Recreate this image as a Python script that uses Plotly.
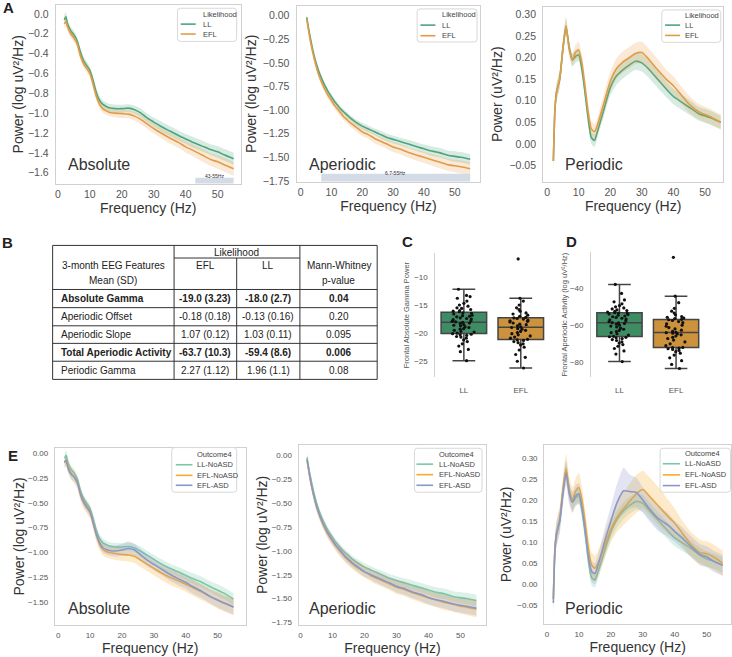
import plotly.graph_objects as go

# ======================= DATA =======================
freqs = [2, 2.5, 3, 4, 5, 6, 7, 8, 9, 10, 11, 12, 13, 14, 15, 16,
         18, 20, 22, 24, 26, 28, 30, 32, 35, 38, 40, 42, 45, 48, 50, 52, 55]

# ---- Panel A : Likelihood (LL / EFL) ----
abs_ll = [-0.06, -0.03, -0.10, -0.17, -0.21, -0.27, -0.38, -0.47, -0.52, -0.57, -0.67, -0.79, -0.87, -0.91, -0.93, -0.945,
          -0.955, -0.955, -0.95, -0.965, -1.00, -1.05, -1.09, -1.13, -1.18, -1.23, -1.26, -1.29, -1.33, -1.37, -1.39, -1.42, -1.46]
abs_efl = [-0.10, -0.08, -0.13, -0.20, -0.24, -0.30, -0.42, -0.50, -0.55, -0.60, -0.71, -0.83, -0.91, -0.955, -0.975, -0.99,
           -1.00, -1.005, -1.01, -1.03, -1.065, -1.11, -1.155, -1.195, -1.25, -1.30, -1.34, -1.37, -1.42, -1.47, -1.49, -1.52, -1.56]
abs_ll_ci = [0.05, 0.05, 0.045, 0.04, 0.04, 0.04, 0.04, 0.04, 0.04, 0.04, 0.04, 0.04, 0.04, 0.04, 0.04, 0.04,
             0.04, 0.04, 0.04, 0.04, 0.045, 0.045, 0.045, 0.05, 0.05, 0.05, 0.05, 0.055, 0.055, 0.055, 0.06, 0.06, 0.06]
abs_efl_ci = [0.05, 0.05, 0.045, 0.04, 0.04, 0.04, 0.04, 0.04, 0.04, 0.04, 0.04, 0.04, 0.04, 0.04, 0.04, 0.04,
              0.045, 0.045, 0.045, 0.045, 0.05, 0.05, 0.05, 0.05, 0.055, 0.055, 0.06, 0.06, 0.065, 0.065, 0.07, 0.07, 0.07]

aper_ll = [-0.02, -0.12, -0.21, -0.37, -0.50, -0.60, -0.68, -0.75, -0.81, -0.86, -0.91, -0.95, -0.99, -1.02, -1.05, -1.08,
           -1.13, -1.17, -1.20, -1.23, -1.26, -1.29, -1.31, -1.33, -1.36, -1.39, -1.41, -1.43, -1.45, -1.48, -1.49, -1.50, -1.52]
aper_efl = [-0.04, -0.14, -0.24, -0.40, -0.53, -0.64, -0.72, -0.79, -0.85, -0.90, -0.95, -0.99, -1.03, -1.07, -1.10, -1.13,
            -1.18, -1.23, -1.26, -1.30, -1.33, -1.36, -1.39, -1.41, -1.45, -1.48, -1.50, -1.52, -1.55, -1.58, -1.59, -1.60, -1.62]
aper_ll_ci = [0.04, 0.035, 0.03, 0.03, 0.03, 0.03, 0.03, 0.03, 0.03, 0.03, 0.03, 0.03, 0.03, 0.03, 0.03, 0.03,
              0.03, 0.035, 0.035, 0.035, 0.04, 0.04, 0.04, 0.04, 0.045, 0.045, 0.045, 0.05, 0.05, 0.05, 0.055, 0.055, 0.055]
aper_efl_ci = [0.04, 0.035, 0.03, 0.03, 0.03, 0.03, 0.035, 0.035, 0.035, 0.035, 0.035, 0.04, 0.04, 0.04, 0.04, 0.04,
               0.045, 0.045, 0.045, 0.05, 0.05, 0.05, 0.055, 0.055, 0.055, 0.06, 0.06, 0.06, 0.065, 0.065, 0.065, 0.07, 0.07]

per_ll = [-0.04, 0.08, 0.12, 0.15, 0.22, 0.272, 0.225, 0.195, 0.203, 0.207, 0.175, 0.12, 0.06, 0.015, 0.008, 0.03,
          0.08, 0.13, 0.158, 0.172, 0.183, 0.192, 0.188, 0.175, 0.15, 0.125, 0.11, 0.10, 0.085, 0.07, 0.065, 0.06, 0.05]
per_efl = [-0.04, 0.08, 0.12, 0.15, 0.22, 0.275, 0.22, 0.195, 0.212, 0.218, 0.19, 0.135, 0.075, 0.035, 0.028, 0.045,
           0.095, 0.145, 0.175, 0.19, 0.20, 0.21, 0.212, 0.198, 0.172, 0.148, 0.135, 0.118, 0.092, 0.075, 0.068, 0.062, 0.05]
per_ll_ci = [0.025, 0.02, 0.02, 0.02, 0.02, 0.02, 0.015, 0.015, 0.015, 0.015, 0.015, 0.015, 0.015, 0.015, 0.015, 0.015,
             0.015, 0.018, 0.02, 0.02, 0.02, 0.02, 0.02, 0.02, 0.02, 0.018, 0.018, 0.018, 0.017, 0.016, 0.016, 0.016, 0.015]
per_efl_ci = [0.025, 0.02, 0.02, 0.02, 0.02, 0.02, 0.015, 0.015, 0.018, 0.02, 0.018, 0.018, 0.018, 0.018, 0.018, 0.018,
              0.02, 0.022, 0.024, 0.025, 0.025, 0.025, 0.025, 0.025, 0.025, 0.022, 0.022, 0.02, 0.02, 0.018, 0.018, 0.018, 0.018]

band_abs = [43, 55]
band_abs_label = "43-55Hz"
band_aper = [6.7, 55]
band_aper_label = "6.7-55Hz"

# ---- Panel E : Outcome4 (LL-NoASD / EFL-NoASD / EFL-ASD) ----
e_abs_ll = [-0.05, -0.02, -0.09, -0.16, -0.20, -0.26, -0.38, -0.46, -0.51, -0.56, -0.66, -0.78, -0.86, -0.90, -0.92, -0.935,
            -0.945, -0.945, -0.94, -0.955, -0.99, -1.03, -1.07, -1.11, -1.16, -1.20, -1.23, -1.26, -1.30, -1.35, -1.38, -1.41, -1.47]
e_abs_no = [-0.10, -0.08, -0.13, -0.20, -0.24, -0.30, -0.42, -0.50, -0.55, -0.60, -0.71, -0.83, -0.92, -0.97, -0.99, -1.00,
            -1.01, -1.02, -1.025, -1.04, -1.08, -1.12, -1.16, -1.20, -1.25, -1.29, -1.32, -1.35, -1.40, -1.45, -1.48, -1.51, -1.55]
e_abs_asd = [-0.09, -0.07, -0.14, -0.21, -0.24, -0.29, -0.41, -0.49, -0.54, -0.59, -0.70, -0.82, -0.90, -0.95, -0.97, -0.98,
             -0.985, -0.975, -0.96, -0.975, -1.03, -1.08, -1.12, -1.16, -1.22, -1.27, -1.30, -1.34, -1.39, -1.45, -1.48, -1.51, -1.55]
e_abs_ll_ci = [0.05, 0.05, 0.05, 0.04, 0.04, 0.04, 0.04, 0.04, 0.04, 0.04, 0.04, 0.04, 0.04, 0.04, 0.04, 0.04,
               0.04, 0.04, 0.04, 0.04, 0.045, 0.045, 0.045, 0.05, 0.05, 0.05, 0.05, 0.055, 0.055, 0.055, 0.06, 0.06, 0.06]
e_abs_no_ci = [0.06, 0.06, 0.06, 0.06, 0.06, 0.06, 0.06, 0.06, 0.06, 0.06, 0.06, 0.06, 0.06, 0.06, 0.06, 0.06,
               0.065, 0.065, 0.065, 0.065, 0.07, 0.07, 0.07, 0.07, 0.075, 0.075, 0.075, 0.08, 0.08, 0.08, 0.085, 0.085, 0.085]
e_abs_asd_ci = [0.05, 0.05, 0.05, 0.05, 0.05, 0.05, 0.05, 0.05, 0.05, 0.05, 0.05, 0.05, 0.05, 0.05, 0.05, 0.05,
                0.055, 0.06, 0.07, 0.06, 0.06, 0.06, 0.06, 0.06, 0.065, 0.065, 0.065, 0.07, 0.07, 0.07, 0.075, 0.075, 0.075]

e_aper_ll = [-0.02, -0.12, -0.21, -0.37, -0.50, -0.60, -0.68, -0.75, -0.81, -0.86, -0.91, -0.95, -0.99, -1.02, -1.05, -1.08,
             -1.13, -1.17, -1.20, -1.23, -1.26, -1.29, -1.31, -1.33, -1.36, -1.39, -1.41, -1.43, -1.45, -1.48, -1.49, -1.50, -1.52]
e_aper_no = [-0.05, -0.15, -0.25, -0.41, -0.54, -0.64, -0.72, -0.79, -0.85, -0.90, -0.95, -0.99, -1.03, -1.07, -1.10, -1.13,
             -1.18, -1.22, -1.26, -1.29, -1.32, -1.35, -1.38, -1.40, -1.44, -1.47, -1.49, -1.51, -1.54, -1.56, -1.58, -1.59, -1.61]
e_aper_asd = [-0.04, -0.14, -0.24, -0.40, -0.53, -0.63, -0.71, -0.78, -0.84, -0.89, -0.94, -0.98, -1.02, -1.06, -1.09, -1.12,
              -1.17, -1.22, -1.25, -1.28, -1.31, -1.34, -1.37, -1.39, -1.43, -1.46, -1.49, -1.51, -1.53, -1.56, -1.57, -1.58, -1.60]
e_aper_ll_ci = [0.045, 0.04, 0.035, 0.035, 0.035, 0.035, 0.035, 0.035, 0.035, 0.035, 0.035, 0.035, 0.035, 0.035, 0.035, 0.035,
                0.04, 0.04, 0.04, 0.04, 0.045, 0.045, 0.045, 0.045, 0.05, 0.05, 0.05, 0.055, 0.055, 0.055, 0.06, 0.06, 0.06]
e_aper_no_ci = [0.05, 0.05, 0.05, 0.05, 0.05, 0.05, 0.05, 0.05, 0.05, 0.05, 0.05, 0.055, 0.055, 0.055, 0.055, 0.055,
                0.06, 0.06, 0.06, 0.065, 0.065, 0.065, 0.07, 0.07, 0.07, 0.075, 0.075, 0.075, 0.08, 0.08, 0.08, 0.085, 0.085]
e_aper_asd_ci = [0.05, 0.045, 0.045, 0.045, 0.045, 0.045, 0.045, 0.045, 0.045, 0.045, 0.045, 0.05, 0.05, 0.05, 0.05, 0.05,
                 0.055, 0.055, 0.055, 0.06, 0.06, 0.06, 0.065, 0.065, 0.065, 0.07, 0.07, 0.07, 0.075, 0.075, 0.075, 0.08, 0.08]

e_per_ll = [-0.035, 0.08, 0.12, 0.15, 0.22, 0.27, 0.22, 0.195, 0.205, 0.21, 0.175, 0.12, 0.055, 0.015, 0.01, 0.03,
            0.078, 0.125, 0.155, 0.175, 0.188, 0.197, 0.192, 0.175, 0.15, 0.125, 0.11, 0.10, 0.085, 0.068, 0.06, 0.055, 0.045]
e_per_no = [-0.035, 0.085, 0.12, 0.155, 0.225, 0.275, 0.225, 0.20, 0.222, 0.23, 0.20, 0.145, 0.085, 0.045, 0.038, 0.05,
            0.09, 0.13, 0.16, 0.18, 0.198, 0.215, 0.225, 0.21, 0.185, 0.16, 0.145, 0.125, 0.095, 0.075, 0.072, 0.065, 0.05]
e_per_asd = [-0.045, 0.08, 0.12, 0.15, 0.215, 0.265, 0.215, 0.195, 0.21, 0.215, 0.18, 0.125, 0.065, 0.03, 0.025, 0.045,
             0.10, 0.15, 0.195, 0.222, 0.22, 0.218, 0.20, 0.18, 0.155, 0.14, 0.125, 0.112, 0.09, 0.07, 0.065, 0.055, 0.045]
e_per_ll_ci = [0.025, 0.02, 0.02, 0.02, 0.02, 0.02, 0.018, 0.018, 0.018, 0.018, 0.018, 0.018, 0.018, 0.018, 0.018, 0.018,
               0.018, 0.02, 0.02, 0.02, 0.02, 0.02, 0.02, 0.02, 0.02, 0.02, 0.02, 0.02, 0.018, 0.018, 0.018, 0.018, 0.018]
e_per_no_ci = [0.03, 0.03, 0.03, 0.03, 0.03, 0.035, 0.03, 0.03, 0.03, 0.035, 0.03, 0.03, 0.03, 0.03, 0.03, 0.03,
               0.03, 0.03, 0.035, 0.04, 0.042, 0.045, 0.045, 0.045, 0.045, 0.04, 0.035, 0.03, 0.03, 0.03, 0.03, 0.03, 0.03]
e_per_asd_ci = [0.035, 0.03, 0.03, 0.03, 0.03, 0.03, 0.025, 0.025, 0.025, 0.025, 0.025, 0.025, 0.025, 0.025, 0.025, 0.025,
                0.03, 0.035, 0.045, 0.055, 0.04, 0.035, 0.03, 0.03, 0.03, 0.028, 0.025, 0.025, 0.025, 0.025, 0.025, 0.025, 0.025]

# ---- Panel B : table ----
tbl_features = ["Absolute Gamma", "Aperiodic Offset", "Aperiodic Slope", "Total Aperiodic Activity", "Periodic Gamma"]
tbl_efl = ["-19.0 (3.23)", "-0.18 (0.18)", "1.07 (0.12)", "-63.7 (10.3)", "2.27 (1.12)"]
tbl_ll = ["-18.0 (2.7)", "-0.13 (0.16)", "1.03 (0.11)", "-59.4 (8.6)", "1.96 (1.1)"]
tbl_p = ["0.04", "0.20", "0.095", "0.006", "0.08"]
tbl_bold = [True, False, False, True, False]

# ---- Panels C / D : box + swarm ----
box_groups = ["LL", "EFL"]
gamma_ll = [-24.9, -23.3, -22.9, -22.3, -21.9, -21.5, -21.2, -20.9, -20.7, -20.6, -20.4, -20.3, -20.2, -20.1,
            -20.0, -19.8, -19.7, -19.5, -19.3, -19.2, -19.0, -18.9, -18.7, -18.6, -18.5, -18.3, -18.2, -18.1,
            -18.0, -17.9, -17.8, -17.6, -17.5, -17.4, -17.3, -17.1, -17.0, -16.9, -16.8, -16.6, -16.5, -16.4,
            -16.2, -16.1, -16.0, -15.8, -15.6, -15.5, -15.2, -15.0, -14.7, -14.3, -13.8, -13.5, -13.3, -12.2]
gamma_efl = [-26.2, -25.0, -24.3, -23.8, -23.0, -22.5, -22.1, -21.9, -21.7, -21.5, -21.3, -21.2,
             -21.1, -20.9, -20.7, -20.5, -20.3, -20.1, -19.9, -19.7, -19.5, -19.3, -19.2, -19.0,
             -18.9, -18.7, -18.5, -18.4, -18.2, -18.0, -17.9, -17.8, -17.7, -17.5, -17.4, -17.3,
             -17.2, -17.0, -16.8, -16.6, -16.4, -16.1, -15.8, -15.5, -15.0, -14.3, -13.8, -6.8]
aperact_ll = [-79.5, -75.5, -73.8, -72.5, -71.3, -70.4, -69.6, -68.9, -68.2, -67.7, -67.2, -66.8, -66.5, -66.2,
              -66.0, -65.3, -64.6, -64.0, -63.4, -62.8, -62.2, -61.6, -61.0, -60.5, -60.0, -59.5, -59.1, -58.8,
              -58.6, -58.1, -57.6, -57.1, -56.7, -56.3, -55.9, -55.5, -55.1, -54.7, -54.3, -54.0, -53.7, -53.5,
              -53.3, -53.0, -52.6, -52.2, -51.8, -51.3, -50.8, -50.2, -49.5, -48.6, -47.5, -46.5, -43.0, -38.2]
aperact_efl = [-83.2, -81.0, -79.0, -77.5, -76.0, -75.0, -74.2, -73.5, -73.0, -72.6, -72.3, -72.0,
               -71.9, -71.0, -70.0, -69.0, -68.0, -67.2, -66.5, -65.8, -65.2, -64.7, -64.3, -64.0,
               -63.9, -63.3, -62.7, -62.0, -61.3, -60.6, -60.0, -59.3, -58.7, -58.1, -57.5, -57.1,
               -56.9, -56.5, -56.2, -55.8, -55.4, -54.5, -53.5, -52.5, -51.0, -48.0, -44.5, -23.7]

# ======================= STYLE / HELPERS =======================
W, H = 732, 657
FONT = "Liberation Sans, Arial, sans-serif"
FRAME = "#d0d0d0"
TICKC = "#555555"
TITLEC = "#333333"
C_LL, C_EFL = "#4ba57c", "#e39b45"
C_E = ["#79c8a8", "#f7ab2a", "#8a98c8"]
BOX_FILL = ["#3e8c64", "#cc923c"]


def X(p):
    return p / W


def Y(p):
    return 1 - p / H


def rgba(hexc, a):
    h = hexc.lstrip('#')
    return f"rgba({int(h[0:2], 16)},{int(h[2:4], 16)},{int(h[4:6], 16)},{a})"


fig = go.Figure()
shapes = []
annos = []


def axid(i):
    return '' if i == 1 else str(i)


def add_series(i, mean, ci, color, alpha=0.22):
    k = axid(i)
    lower = [m - c for m, c in zip(mean, ci)]
    upper = [m + c for m, c in zip(mean, ci)]
    fig.add_trace(go.Scatter(x=freqs, y=lower, mode='lines', line=dict(width=0, shape='spline', smoothing=0.6),
                             hoverinfo='skip', showlegend=False, xaxis='x' + k, yaxis='y' + k))
    fig.add_trace(go.Scatter(x=freqs, y=upper, mode='lines', line=dict(width=0, shape='spline', smoothing=0.6),
                             fill='tonexty', fillcolor=rgba(color, alpha),
                             hoverinfo='skip', showlegend=False, xaxis='x' + k, yaxis='y' + k))
    fig.add_trace(go.Scatter(x=freqs, y=mean, mode='lines', line=dict(color=color, width=1.6, shape='spline', smoothing=0.6),
                             showlegend=False, xaxis='x' + k, yaxis='y' + k))


def line_axes(i, xd, yd, xr, yr, ytv, yfmt, tfs, ytitle, ystand, xstand, xtstand, ytstand=4):
    k = axid(i)
    fig.update_layout(**{
        'xaxis' + k: dict(domain=[X(xd[0]), X(xd[1])], range=xr, anchor='y' + k,
                          tickvals=[0, 10, 20, 30, 40, 50], showline=True, mirror=True,
                          linecolor=FRAME, linewidth=1.2, showgrid=False, zeroline=False, ticks='',
                          ticklabelstandoff=xtstand,
                          tickfont=dict(size=tfs, color=TICKC, family=FONT),
                          title=dict(text='Frequency (Hz)', standoff=xstand,
                                     font=dict(size=14, color=TITLEC, family=FONT))),
        'yaxis' + k: dict(domain=[Y(yd[1]), Y(yd[0])], range=yr, anchor='x' + k,
                          tickvals=ytv, tickformat=yfmt, showline=True, mirror=True,
                          linecolor=FRAME, linewidth=1.2, showgrid=False, zeroline=False, ticks='',
                          ticklabelstandoff=ytstand,
                          tickfont=dict(size=tfs, color=TICKC, family=FONT),
                          title=dict(text=ytitle, standoff=ystand,
                                     font=dict(size=14, color=TITLEC, family=FONT))),
    })


def add_text(x, y, text, size, color=TITLEC, xanchor='left', bold=False, yanchor='middle'):
    annos.append(dict(x=X(x), y=Y(y), xref='paper', yref='paper', text=(f"<b>{text}</b>" if bold else text),
                      showarrow=False, xanchor=xanchor, yanchor=yanchor,
                      font=dict(size=size, color=color, family=FONT)))


def add_legend(box, title, labels, colors, rows_y, lx, tx, fs=7.5):
    x0, y0, x1, y1 = box
    r = 3
    path = (f"M {X(x0 + r)},{Y(y0)} L {X(x1 - r)},{Y(y0)} Q {X(x1)},{Y(y0)} {X(x1)},{Y(y0 + r)} "
            f"L {X(x1)},{Y(y1 - r)} Q {X(x1)},{Y(y1)} {X(x1 - r)},{Y(y1)} L {X(x0 + r)},{Y(y1)} "
            f"Q {X(x0)},{Y(y1)} {X(x0)},{Y(y1 - r)} L {X(x0)},{Y(y0 + r)} Q {X(x0)},{Y(y0)} {X(x0 + r)},{Y(y0)} Z")
    shapes.append(dict(type='path', path=path, xref='paper', yref='paper', layer='above',
                       fillcolor='rgba(255,255,255,0.85)', line=dict(color='#d8d8d8', width=1)))
    add_text(tx, rows_y[0], title, fs, color='#444444')
    for lab, col, yy in zip(labels, colors, rows_y[1:]):
        shapes.append(dict(type='line', xref='paper', yref='paper', x0=X(lx[0]), x1=X(lx[1]), y0=Y(yy), y1=Y(yy),
                           line=dict(color=col, width=1.6), layer='above'))
        add_text(tx, yy, lab, fs, color='#444444')


def add_band(i, band, label, hpx, dom_h):
    k = axid(i)
    frac = hpx / dom_h
    shapes.append(dict(type='rect', xref='x' + k, yref=('y' + k + ' domain'), x0=band[0], x1=band[1],
                       y0=0, y1=frac, fillcolor='#d3dbe6', line=dict(width=0), layer='above'))
    annos.append(dict(x=(band[0] + band[1]) / 2, y=frac / 2, xref='x' + k, yref='y' + k + ' domain',
                      text=label, showarrow=False, font=dict(size=5, color='#333333', family=FONT)))


# ======================= PANEL A =======================
add_series(1, abs_ll, abs_ll_ci, C_LL)
add_series(1, abs_efl, abs_efl_ci, C_EFL)
line_axes(1, (55, 240), (5, 185), [-0.625, 57.2], [-1.71, 0.09],
          [-1.6, -1.4, -1.2, -1.0, -0.8, -0.6, -0.4, -0.2, 0.0], '.1f', 10.5, 'Power (log uV²/Hz)', 1, 1, 1)
add_band(1, band_abs, band_abs_label, 6, 180)

add_series(2, aper_ll, aper_ll_ci, C_LL)
add_series(2, aper_efl, aper_efl_ci, C_EFL)
line_axes(2, (296, 480), (6, 183), [-1.3, 58.3], [-1.757, 0.102],
          [-1.75, -1.5, -1.25, -1.0, -0.75, -0.5, -0.25, 0.0], '.2f', 10.5, 'Power (log uV²/Hz)', 2, 1, 1)
add_band(2, band_aper, band_aper_label, 8, 177)

add_series(3, per_ll, per_ll_ci, C_LL)
add_series(3, per_efl, per_efl_ci, C_EFL)
line_axes(3, (543, 723), (7, 183), [-1.2, 55.7], [-0.0877, 0.318],
          [-0.05, 0.0, 0.05, 0.1, 0.15, 0.2, 0.25, 0.3], '.2f', 10.5, 'Power (uV²/Hz)', 3, 1, 1)

add_legend((176.7, 8.3, 236, 41.7), 'Likelihood', ['LL', 'EFL'], [C_LL, C_EFL], [14.3, 24.3, 34.3], (180, 195), 200)
add_legend((416.7, 9, 476.7, 42.3), 'Likelihood', ['LL', 'EFL'], [C_LL, C_EFL], [15, 25.3, 36], (420, 435), 440)
add_legend((661.7, 10, 720.7, 42.7), 'Likelihood', ['LL', 'EFL'], [C_LL, C_EFL], [15.3, 25.3, 35.7], (665, 680), 683.3)

add_text(65, 166, 'Absolute', 16)
add_text(306.5, 165.7, 'Aperiodic', 16)
add_text(563, 165.7, 'Periodic', 16)

# ======================= PANEL B (table) =======================
cx = [51.7, 173.3, 236, 299.3, 376.7]
ry = [247.3, 260, 291.7, 310, 328.3, 346, 364, 382.3]
LC = '#333333'


def hline(x0, x1, y):
    shapes.append(dict(type='line', xref='paper', yref='paper', x0=X(x0), x1=X(x1), y0=Y(y), y1=Y(y),
                       line=dict(color=LC, width=1)))


def vline(x, y0, y1):
    shapes.append(dict(type='line', xref='paper', yref='paper', x0=X(x), x1=X(x), y0=Y(y0), y1=Y(y1),
                       line=dict(color=LC, width=1)))


hline(cx[0], cx[4], ry[0])
hline(cx[1], cx[3], ry[1])
for yy in ry[2:]:
    hline(cx[0], cx[4], yy)
for xx in (cx[0], cx[1], cx[3], cx[4]):
    vline(xx, ry[0], ry[-1])
vline(cx[2], ry[1], ry[-1])

TF = 10
add_text((cx[1] + cx[3]) / 2, 254, 'Likelihood', TF, color='#222222', xanchor='center')
add_text((cx[0] + cx[1]) / 2, 268, '3-month EEG Features', TF, color='#222222', xanchor='center')
add_text((cx[0] + cx[1]) / 2, 282.7, 'Mean (SD)', TF, color='#222222', xanchor='center')
add_text((cx[1] + cx[2]) / 2, 268, 'EFL', TF, color='#222222', xanchor='center')
add_text((cx[2] + cx[3]) / 2, 268, 'LL', TF, color='#222222', xanchor='center')
add_text((cx[3] + cx[4]) / 2, 268, 'Mann-Whitney', TF, color='#222222', xanchor='center')
add_text((cx[3] + cx[4]) / 2, 282.7, 'p-value', TF, color='#222222', xanchor='center')
for j in range(len(tbl_features)):
    yc = (ry[2 + j] + ry[3 + j]) / 2
    b = tbl_bold[j]
    add_text(cx[0] + 6, yc, tbl_features[j], TF, color='#222222', bold=b)
    add_text((cx[1] + cx[2]) / 2, yc, tbl_efl[j], TF, color='#222222', xanchor='center', bold=b)
    add_text((cx[2] + cx[3]) / 2, yc, tbl_ll[j], TF, color='#222222', xanchor='center', bold=b)
    add_text((cx[3] + cx[4]) / 2, yc, tbl_p[j], TF, color='#222222', xanchor='center', bold=b)

# ======================= PANELS C / D =======================


def box_panel(i, xd, yd, yr, ytv, ytitle, vals_ll, vals_efl, ystand):
    k = axid(i)
    for grp, vals, fc in zip(box_groups, [vals_ll, vals_efl], BOX_FILL):
        fig.add_trace(go.Box(x=[grp] * len(vals), y=vals, name=grp, boxpoints='all', jitter=0.55, pointpos=0,
                             fillcolor=fc, line=dict(color='#444444', width=1.5),
                             marker=dict(color='#111111', size=3.2), width=0.8, whiskerwidth=0.5,
                             showlegend=False, xaxis='x' + k, yaxis='y' + k))
    fig.update_layout(**{
        'xaxis' + k: dict(domain=[X(xd[0]), X(xd[1])], range=[-0.5, 1.5], type='category',
                          categoryorder='array', categoryarray=box_groups, anchor='y' + k,
                          showline=False, showgrid=False, zeroline=False, ticks='', ticklabelstandoff=7,
                          tickfont=dict(size=8, color=TICKC, family=FONT)),
        'yaxis' + k: dict(domain=[Y(yd[1]), Y(yd[0])], range=yr, anchor='x' + k, tickvals=ytv,
                          showline=True, linecolor=FRAME, linewidth=1.2, showgrid=False, zeroline=False,
                          ticks='', ticklabelstandoff=5,
                          tickfont=dict(size=8, color=TICKC, family=FONT),
                          title=dict(text=ytitle, standoff=ystand, font=dict(size=7.5, color=TICKC, family=FONT))),
    })


box_panel(4, (435, 549), (255, 380), [-27.82, -5.76], [-25, -20, -15, -10],
          'Frontal Absolute Gamma Power', gamma_ll, gamma_efl, 3)
box_panel(5, (591, 704.3), (254, 380), [-87.8, -20.9], [-80, -60, -40],
          'Frontal Aperiodic Activity (log uV²/Hz)', aperact_ll, aperact_efl, 1)

# ======================= PANEL E =======================
e_labels = ['LL-NoASD', 'EFL-NoASD', 'EFL-ASD']
for mean, ci, col in zip([e_abs_ll, e_abs_no, e_abs_asd], [e_abs_ll_ci, e_abs_no_ci, e_abs_asd_ci], C_E):
    add_series(6, mean, ci, col, 0.25)
line_axes(6, (54, 245), (451, 630), [-1.03, 58.8], [-1.733, 0.057],
          [-1.5, -1.25, -1.0, -0.75, -0.5, -0.25, 0.0], '.2f', 8, 'Power (log uV²/Hz)', 0, 0, 2)

for mean, ci, col in zip([e_aper_ll, e_aper_no, e_aper_asd], [e_aper_ll_ci, e_aper_no_ci, e_aper_asd_ci], C_E):
    add_series(7, mean, ci, col, 0.25)
line_axes(7, (298, 486), (448, 630), [-0.625, 58.1], [-1.779, 0.114],
          [-1.75, -1.5, -1.25, -1.0, -0.75, -0.5, -0.25, 0.0], '.2f', 8, 'Power (log uV²/Hz)', 0, 0, 2)

for mean, ci, col in zip([e_per_ll, e_per_no, e_per_asd], [e_per_ll_ci, e_per_no_ci, e_per_asd_ci], C_E):
    add_series(8, mean, ci, col, 0.25)
line_axes(8, (544, 731), (448, 629), [-0.84, 57.6], [-0.0954, 0.332],
          [-0.05, 0.0, 0.05, 0.1, 0.15, 0.2, 0.25, 0.3], '.2f', 8, 'Power (uV²/Hz)', 2, 0, 2)

add_legend((171, 451, 236, 496), 'Outcome4', e_labels, C_E, [458.3, 468.3, 479, 489], (175, 191.7), 194.3)
add_legend((414, 451.7, 481.7, 496), 'Outcome4', e_labels, C_E, [457.7, 467.7, 478.3, 489], (416, 432.7), 436.7)
add_legend((660, 451.7, 730.5, 496), 'Outcome4', e_labels, C_E, [456.7, 467.3, 478.5, 489.3], (662.7, 680), 683.3)

add_text(65, 613, 'Absolute', 16)
add_text(306.5, 612.7, 'Aperiodic', 16)
add_text(563, 612.7, 'Periodic', 16)

# ======================= PANEL LETTERS =======================
for letter, (lx_, ly_) in zip(['A', 'B', 'C', 'D', 'E'],
                              [(7.5, 8), (7, 244), (407.3, 243.3), (571.7, 243.3), (12, 458.5)]):
    add_text(lx_, ly_, letter, 15, color='#222222', xanchor='center', bold=True)

fig.update_layout(width=W, height=H, margin=dict(l=0, r=0, t=0, b=0),
                  paper_bgcolor='white', plot_bgcolor='white', showlegend=False,
                  font=dict(family=FONT), shapes=shapes, annotations=annos)

# remove the default 8px page margin so the figure sits at the window's top-left corner
fig.write_html("out.html", config={'displayModeBar': False},
               post_script="document.body.style.margin='0px';document.body.style.overflow='hidden';")
